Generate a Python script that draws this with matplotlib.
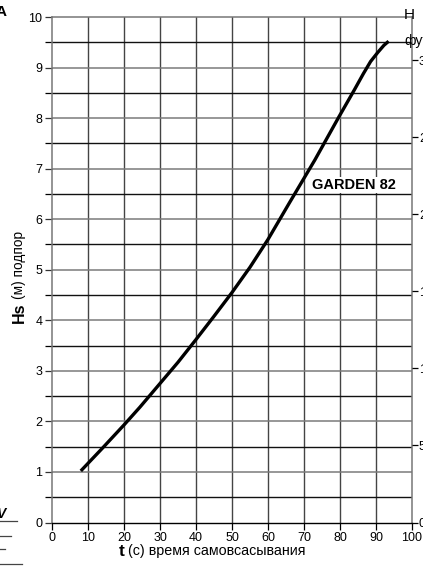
import matplotlib.pyplot as plt
import numpy as np
from matplotlib.lines import Line2D

# данные кривой GARDEN 82: время самовсасывания (с) и подпор (м)
t_sec = [8, 14, 20, 24.4, 30, 35, 40, 45, 50, 55, 60, 66, 73, 79.5, 84, 86.5, 88.5, 90.5, 92.2, 93.5]
hs_m = [1.02, 1.47, 1.93, 2.28, 2.75, 3.17, 3.62, 4.08, 4.55, 5.05, 5.6, 6.33, 7.17, 8.0, 8.56, 8.88, 9.12, 9.3, 9.44, 9.52]

x_ticks = [0, 10, 20, 30, 40, 50, 60, 70, 80, 90, 100]
y_ticks = [0, 1, 2, 3, 4, 5, 6, 7, 8, 9, 10]
ft_ticks = [0, 5, 10, 15, 20, 25, 30]
curve_label = 'GARDEN 82'

plt.rcParams['font.family'] = ['Liberation Sans Narrow', 'Liberation Sans', 'DejaVu Sans']

W, H = 423, 566
fig = plt.figure(figsize=(W / 100, H / 100), dpi=100)
ax = fig.add_axes([52 / W, (H - 522.5) / H, 360 / W, 505.5 / H])

ax.set_xlim(0, 100)
ax.set_ylim(0, 10)

# сетка: вертикальные линии и горизонтальные (целые серые, половинки чёрные)
for x in x_ticks[1:-1]:
    ax.axvline(x, color='#444444', lw=1.0, zorder=1)
for y in np.arange(0.5, 10, 0.5):
    if y == int(y):
        ax.axhline(y, color='#7a7a7a', lw=1.1, zorder=1)
    else:
        ax.axhline(y, color='#111111', lw=1.0, zorder=1)

ax.plot(t_sec, hs_m, color='black', lw=2.4, solid_capstyle='butt', zorder=3)
ax.text(72.3, 6.68, curve_label, fontsize=10.5, fontweight='bold', va='center', ha='left',
        bbox=dict(facecolor='white', edgecolor='none', pad=0.5), zorder=2)

for s in ['left', 'right', 'top']:
    ax.spines[s].set_color('#777777')
    ax.spines[s].set_linewidth(1.1)
ax.spines['bottom'].set_color('black')
ax.spines['bottom'].set_linewidth(1.0)

ax.set_xticks(x_ticks)
ax.set_yticks(y_ticks)
ax.set_yticks(np.arange(0.5, 10, 1.0), minor=True)
ax.tick_params(axis='both', which='both', direction='out', length=5, width=0.9,
               labelsize=9, colors='black', pad=2)
ax.tick_params(axis='y', which='major', colors='#333333', labelcolor='black')

# правая ось в футах
ax2 = ax.twinx()
ax2.set_ylim(0, 10 / 0.3048)
ax2.set_yticks(ft_ticks)
ax2.tick_params(axis='y', direction='out', length=4, width=0.9, labelsize=9, pad=1)
for s in ax2.spines.values():
    s.set_visible(False)

# подписи осей
fig.text(122 / W, 1 - 551 / H, 't', fontsize=12.5, fontweight='bold', ha='center', va='center')
fig.text(128 / W, 1 - 551 / H, '(с) время самовсасывания', fontsize=10.3, ha='left', va='center')
fig.text(19 / W, 1 - 313 / H, 'Hs', fontsize=11.5, fontweight='bold', rotation=90,
         ha='center', va='center')
fig.text(19 / W, 1 - 299 / H, '(м) подпор', fontsize=9.8, rotation=90, ha='center', va='bottom')

# обрезанные подписи правой оси
fig.text(404 / W, 1 - 15 / H, 'H', fontsize=11, ha='left', va='center')
fig.text(404 / W, 1 - 41 / H, 'фут', fontsize=10, ha='left', va='center')

# обрезанные фрагменты соседних элементов слева
fig.text(-4 / W, 1 - 12 / H, 'A', fontsize=11, fontweight='bold', ha='left', va='center')
fig.text(-3 / W, 1 - 514 / H, 'V', fontsize=10, fontweight='bold', style='italic', ha='left', va='center')
for y0, x1 in [(521, 17), (536, 11), (549, 5), (564, 22)]:
    fig.add_artist(Line2D([0, x1 / W], [1 - y0 / H, 1 - y0 / H], color='#444444', lw=0.9))

fig.savefig('out.png', dpi=100)
